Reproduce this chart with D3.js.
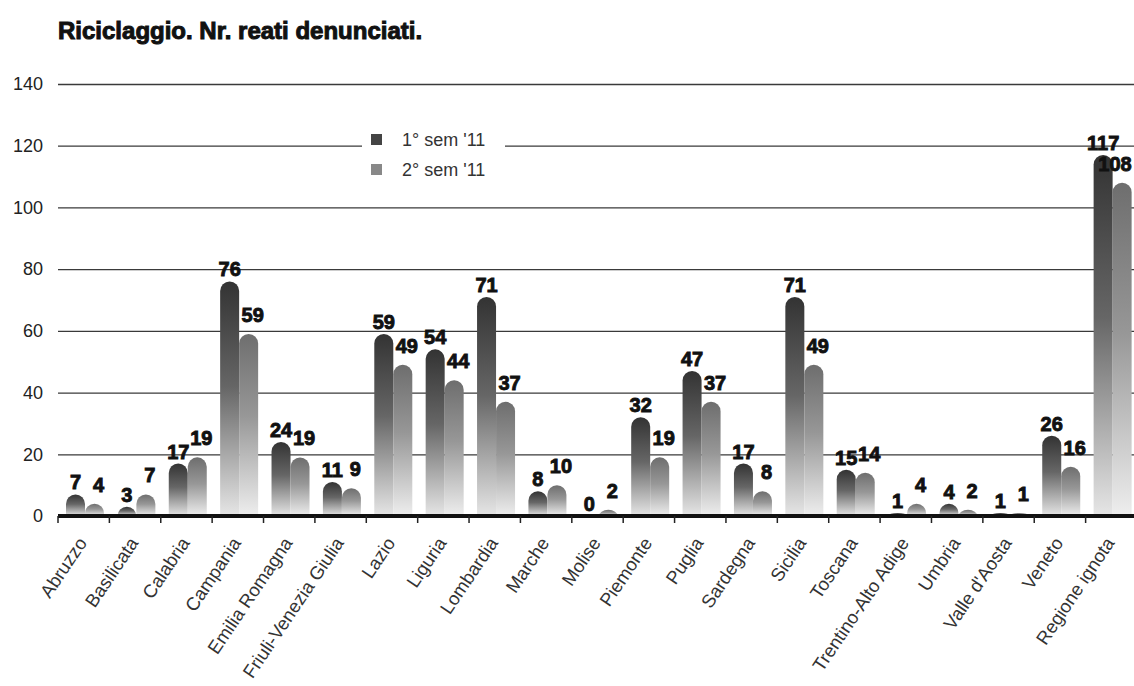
<!DOCTYPE html>
<html>
<head>
<meta charset="utf-8">
<script src="https://cdn.jsdelivr.net/npm/d3@7"></script>
<style>
  html, body { margin: 0; padding: 0; background: #fff; }
  svg { display: block; }
</style>
</head>
<body>
<svg id="chart" width="1134" height="686"></svg>
<script>
// Regions (reports of money-laundering offences, 2011)
const categories = ["Abruzzo", "Basilicata", "Calabria", "Campania", "Emilia Romagna",
  "Friuli-Venezia Giulia", "Lazio", "Liguria", "Lombardia", "Marche", "Molise",
  "Piemonte", "Puglia", "Sardegna", "Sicilia", "Toscana", "Trentino-Alto Adige",
  "Umbria", "Valle d'Aosta", "Veneto", "Regione ignota"];
const sem1 = [7, 3, 17, 76, 24, 11, 59, 54, 71, 8, 0, 32, 47, 17, 71, 15, 1, 4, 1, 26, 117];
const sem2 = [4, 7, 19, 59, 19, 9, 49, 44, 37, 10, 2, 19, 37, 8, 49, 14, 4, 2, 1, 16, 108];
const seriesNames = ["1\u00b0 sem '11", "2\u00b0 sem '11"];
const yTicks = [0, 20, 40, 60, 80, 100, 120, 140];

const svg = d3.select("#chart");
const W = 1134, H = 686;
const plotLeft = 58, plotRight = 1137, plotTop = 84, plotBottom = 516;
const FONT = "Liberation Sans, Arial, sans-serif";

const x = d3.scaleBand().domain(categories).range([plotLeft, plotRight]).padding(0);
const y = d3.scaleLinear().domain([0, 140]).range([plotBottom, plotTop]);

// vertical fade gradients for the two series
const defs = svg.append("defs");
const grads = [
  { id: "g1", stops: [[0, "#333333"], [0.45, "#666666"], [1, "#e6e6e6"]] },
  { id: "g2", stops: [[0, "#6e6e6e"], [0.45, "#979797"], [1, "#eeeeee"]] }
];
grads.forEach(g => {
  const lg = defs.append("linearGradient").attr("id", g.id)
    .attr("x1", 0).attr("y1", 0).attr("x2", 0).attr("y2", 1);
  g.stops.forEach(s => lg.append("stop").attr("offset", s[0]).attr("stop-color", s[1]));
});

// title
svg.append("text")
  .attr("x", 58).attr("y", 39)
  .attr("font-family", FONT)
  .attr("font-weight", "bold")
  .attr("font-size", 24)
  .attr("fill", "#111")
  .attr("stroke", "#111").attr("stroke-width", 1)
  .text("Riciclaggio. Nr. reati denunciati.");

// horizontal grid + y labels
const yAxis = d3.axisLeft(y).tickValues(yTicks).tickSize(-(W - plotLeft)).tickPadding(15);
const gy = svg.append("g").attr("transform", `translate(${plotLeft},0)`).call(yAxis);
gy.select(".domain").remove();
gy.selectAll(".tick line").attr("stroke", "#3a3a3a").attr("stroke-width", 1.3);
gy.selectAll(".tick text")
  .attr("font-family", FONT)
  .attr("font-size", 18).attr("fill", "#222");

// legend (white box interrupts grid)
const lg = svg.append("g");
lg.append("rect").attr("x", 362).attr("y", 126).attr("width", 143).attr("height", 56).attr("fill", "#fff");
const legendColors = ["#444", "#888"];
seriesNames.forEach((n, i) => {
  lg.append("rect").attr("x", 371).attr("y", 134 + i * 30).attr("width", 11).attr("height", 11)
    .attr("fill", legendColors[i]);
  lg.append("text").attr("x", 402).attr("y", 146 + i * 30)
    .attr("font-family", FONT)
    .attr("font-size", 18).attr("fill", "#333").text(n);
});

// bars with rounded tops
const bw = 19;
function barPath(x0, v) {
  const yb = y(0), yt = y(v), h = yb - yt;
  if (h <= 0) return "";
  const r = Math.min(bw / 2, h);
  return `M${x0},${yb} L${x0},${yt + r} A${bw / 2},${r} 0 0 1 ${x0 + bw},${yt + r} L${x0 + bw},${yb} Z`;
}
const offsets = [8, 27];
[sem1, sem2].forEach((vals, s) => {
  svg.append("g").selectAll("path").data(categories).join("path")
    .attr("d", (c, i) => barPath(x(c) + offsets[s], vals[i]))
    .attr("fill", `url(#g${s + 1})`);
});

// value labels
const labelStyle = sel => sel
  .attr("font-family", FONT)
  .attr("font-weight", "bold").attr("font-size", 20)
  .attr("fill", "#111").attr("stroke", "#111").attr("stroke-width", 0.9)
  .attr("text-anchor", "middle");
[sem1, sem2].forEach((vals, s) => {
  svg.append("g").selectAll("text").data(categories).join("text")
    .call(labelStyle)
    .attr("x", (c, i) => Math.min(W - 19, x(c) + offsets[s] + bw / 2 + (s === 1 ? 4 : 0)))
    .attr("y", (c, i) => y(vals[i]) - (s === 0 ? 5 : 12))
    .text((c, i) => vals[i]);
});

// baseline axis
svg.append("line").attr("x1", plotLeft).attr("x2", W).attr("y1", y(0)).attr("y2", y(0))
  .attr("stroke", "#111").attr("stroke-width", 4);
svg.append("g").selectAll("line").data(categories).join("line")
  .attr("x1", c => x(c)).attr("x2", c => x(c))
  .attr("y1", y(0)).attr("y2", y(0) + 7)
  .attr("stroke", "#222").attr("stroke-width", 1.5);

// rotated category labels
svg.append("g").selectAll("text").data(categories).join("text")
  .attr("transform", c => `translate(${x(c) + x.bandwidth() / 2 + 4},${y(0) + 27}) rotate(-56)`)
  .attr("text-anchor", "end")
  .attr("font-family", FONT)
  .attr("font-size", 18.5).attr("fill", "#333")
  .text(c => c);
</script>
</body>
</html>
